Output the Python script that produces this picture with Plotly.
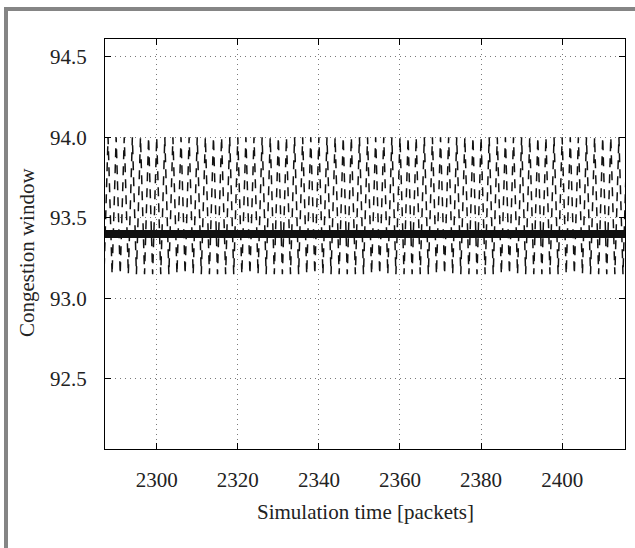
import plotly.graph_objects as go

# ---- data ----
time_packets = [
    2286, 2287, 2288, 2289, 2290, 2291, 2292, 2293, 2294, 2295,
    2296, 2297, 2298, 2299, 2300, 2301, 2302, 2303, 2304, 2305,
    2306, 2307, 2308, 2309, 2310, 2311, 2312, 2313, 2314, 2315,
    2316, 2317, 2318, 2319, 2320, 2321, 2322, 2323, 2324, 2325,
    2326, 2327, 2328, 2329, 2330, 2331, 2332, 2333, 2334, 2335,
    2336, 2337, 2338, 2339, 2340, 2341, 2342, 2343, 2344, 2345,
    2346, 2347, 2348, 2349, 2350, 2351, 2352, 2353, 2354, 2355,
    2356, 2357, 2358, 2359, 2360, 2361, 2362, 2363, 2364, 2365,
    2366, 2367, 2368, 2369, 2370, 2371, 2372, 2373, 2374, 2375,
    2376, 2377, 2378, 2379, 2380, 2381, 2382, 2383, 2384, 2385,
    2386, 2387, 2388, 2389, 2390, 2391, 2392, 2393, 2394, 2395,
    2396, 2397, 2398, 2399, 2400, 2401, 2402, 2403, 2404, 2405,
    2406, 2407, 2408, 2409, 2410, 2411, 2412, 2413, 2414, 2415,
    2416,
]
cwnd = [
    94.0, 93.15, 94.0, 93.15, 94.0, 93.15, 94.0, 93.15, 94.0, 93.15,
    94.0, 93.15, 94.0, 93.15, 94.0, 93.15, 94.0, 93.15, 94.0, 93.15,
    94.0, 93.15, 94.0, 93.15, 94.0, 93.15, 94.0, 93.15, 94.0, 93.15,
    94.0, 93.15, 94.0, 93.15, 94.0, 93.15, 94.0, 93.15, 94.0, 93.15,
    94.0, 93.15, 94.0, 93.15, 94.0, 93.15, 94.0, 93.15, 94.0, 93.15,
    94.0, 93.15, 94.0, 93.15, 94.0, 93.15, 94.0, 93.15, 94.0, 93.15,
    94.0, 93.15, 94.0, 93.15, 94.0, 93.15, 94.0, 93.15, 94.0, 93.15,
    94.0, 93.15, 94.0, 93.15, 94.0, 93.15, 94.0, 93.15, 94.0, 93.15,
    94.0, 93.15, 94.0, 93.15, 94.0, 93.15, 94.0, 93.15, 94.0, 93.15,
    94.0, 93.15, 94.0, 93.15, 94.0, 93.15, 94.0, 93.15, 94.0, 93.15,
    94.0, 93.15, 94.0, 93.15, 94.0, 93.15, 94.0, 93.15, 94.0, 93.15,
    94.0, 93.15, 94.0, 93.15, 94.0, 93.15, 94.0, 93.15, 94.0, 93.15,
    94.0, 93.15, 94.0, 93.15, 94.0, 93.15, 94.0, 93.15, 94.0, 93.15,
    94.0,
]
mean_time = [2286, 2416]
mean_cwnd = [93.4, 93.4]

x_ticks = [2300, 2320, 2340, 2360, 2380, 2400]
y_ticks = [92.5, 93.0, 93.5, 94.0, 94.5]
y_tick_labels = ["92.5", "93.0", "93.5", "94.0", "94.5"]

x_title = "Simulation time [packets]"
y_title = "Congestion window"

# ---- figure ----
FONT = "Liberation Serif"
W, H = 635, 548
L, R, T, B = 105, 10, 39, 99
pw, ph = W - L - R, H - T - B


def px_x(p):
    return (p - L) / pw


def px_y(p):
    return (H - B - p) / ph


fig = go.Figure()
fig.add_trace(go.Scatter(
    x=time_packets, y=cwnd, mode="lines",
    line=dict(color="#111111", width=1.5, dash="9px,7px"),
    showlegend=False, hoverinfo="skip",
))
fig.add_trace(go.Scatter(
    x=mean_time, y=mean_cwnd, mode="lines",
    line=dict(color="#111111", width=8),
    showlegend=False, hoverinfo="skip",
))

axis_common = dict(
    showline=True, linecolor="black", linewidth=1, mirror="ticks",
    ticks="inside", ticklen=6, tickcolor="black", tickwidth=1,
    showgrid=True, gridcolor="#7a7a7a", gridwidth=1, griddash="1px,4px",
    zeroline=False,
    tickfont=dict(family=FONT, size=21, color="#222222"),
)

fig.update_xaxes(
    range=[2287.25, 2415.5], tickvals=x_ticks,
    ticklabelstandoff=12, **axis_common,
)
fig.update_yaxes(
    range=[92.065, 94.61], tickvals=y_ticks, ticktext=y_tick_labels,
    ticklabelstandoff=13, **axis_common,
)

fig.update_layout(
    width=W, height=H,
    margin=dict(l=L, r=R, t=T, b=B, pad=0),
    paper_bgcolor="white", plot_bgcolor="white",
    font=dict(family=FONT, color="#222222"),
    annotations=[
        dict(text=x_title, xref="paper", yref="paper",
             x=px_x(365), y=px_y(512), showarrow=False,
             xanchor="center", yanchor="middle",
             font=dict(family=FONT, size=21, color="#222222")),
        dict(text=y_title, xref="paper", yref="paper",
             x=px_x(27), y=px_y(253), showarrow=False, textangle=-90,
             xanchor="center", yanchor="middle",
             font=dict(family=FONT, size=21, color="#222222")),
    ],
    shapes=[
        dict(type="rect", xref="paper", yref="paper",
             x0=px_x(4), x1=px_x(8), y0=px_y(7), y1=px_y(560),
             fillcolor="#858585", line=dict(width=0), layer="above"),
        dict(type="rect", xref="paper", yref="paper",
             x0=px_x(4), x1=px_x(640), y0=px_y(7), y1=px_y(11),
             fillcolor="#858585", line=dict(width=0), layer="above"),
    ],
)

fig.write_html(
    "out.html",
    config={"displayModeBar": False},
    post_script="document.body.style.margin='0';document.body.style.overflow='hidden';",
)
